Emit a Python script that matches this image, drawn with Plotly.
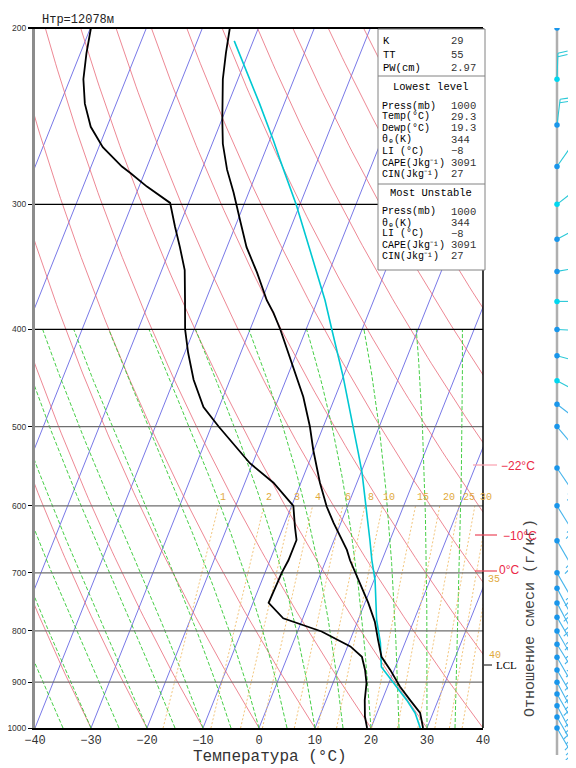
import numpy as np
import plotly.graph_objects as go

# ---------------- data ----------------
TEMP_P = [1000, 966, 938, 909, 875, 849, 817, 783, 750, 712, 680, 664, 624, 601, 569, 528, 500, 467,
          436, 400, 385, 374, 351, 331, 311, 292, 277, 261, 247, 225, 212, 200]
TEMP_T = [29.3, 27.7, 25.0, 22.2, 19.3, 16.8, 15.0, 13.1, 10.6, 7.2, 4.3, 3.0, -1.3, -3.7, -6.6, -10.1,
          -12.4, -15.7, -19.6, -24.6, -27.0, -29.1, -32.8, -36.5, -39.6, -42.7, -45.5, -48.1, -49.9,
          -52.7, -54.0, -55.1]

DEW_P = [1000, 974, 938, 902, 875, 849, 829, 801, 777, 750, 700, 680, 649, 630, 600, 569, 544, 516,
         500, 478, 449, 422, 400, 374, 349, 331, 316, 299, 288, 279, 275, 263, 251, 238, 225, 212, 200]
DEW_T = [19.3, 18.1, 16.9, 16.0, 14.8, 13.3, 10.5, 4.3, -3.5, -7.2, -7.0, -6.7, -6.7, -7.9, -9.7,
         -14.9, -20.5, -25.7, -28.7, -32.8, -36.5, -39.4, -41.6, -43.7, -45.9, -48.4, -50.7, -53.3,
         -58.6, -62.6, -64.5, -69.3, -72.9, -75.6, -77.6, -78.9, -79.9]

PARCEL_P = [1000, 966, 938, 902, 869, 822, 780, 712, 680, 649, 592, 556, 531, 493, 446, 400, 374,
            333, 300, 271, 259, 238, 219, 206]
PARCEL_T = [28.8, 26.8, 24.4, 20.8, 17.5, 15.6, 13.3, 10.2, 8.2, 6.4, 2.7, 0.2, -1.9, -5.4, -10.0,
            -15.4, -18.7, -25.0, -30.7, -36.7, -39.3, -44.4, -49.6, -53.4]

WIND_P = [200, 225, 250, 275, 300, 325, 350, 375, 400, 425, 450, 475, 500, 550, 600, 650, 700,
          725, 750, 775, 800, 825, 850, 875, 900, 925, 950, 975, 1000]
WIND_DIR = [20, 2, 7, 35, 52, 62, 80, 90, 93, 105, 118, 128, 140, 146, 148, 150, 150, 152, 152,
            150, 150, 148, 150, 150, 152, 150, 152, 150, 150]
WIND_SPD = [5, 20, 20, 15, 15, 15, 15, 15, 15, 15, 15, 15, 15, 15, 15, 15, 15, 15, 15, 15, 15,
            15, 15, 15, 15, 15, 15, 15, 15]

X_TICKS = [-40, -30, -20, -10, 0, 10, 20, 30, 40]
P_TICKS = [200, 300, 400, 500, 600, 700, 800, 900, 1000]

ISOTHERMS = list(range(-90, 50, 10))
DRY_THETA_C = list(range(-40, 180, 10))
MOIST_THETAW_C = list(range(-40, 45, 5))
MIX_RATIOS = [1, 2, 3, 4, 6, 8, 10, 15, 20, 25, 30, 35, 40]
MIX_LABELED = [1, 2, 3, 4, 6, 8, 10, 15, 20, 25, 30]

STATS_TOP = [("K", "29"), ("TT", "55"), ("PW(cm)", "2.97")]
STATS_LOW = [("Press(mb)", "1000"), ("Temp(°C)", "29.3"), ("Dewp(°C)", "19.3"), ("θₑ(K)", "344"),
             ("LI (°C)", "−8"), ("CAPE(Jkg⁻¹)", "3091"), ("CIN(Jkg⁻¹)", "27")]
STATS_MU = [("Press(mb)", "1000"), ("θₑ(K)", "344"), ("LI (°C)", "−8"),
            ("CAPE(Jkg⁻¹)", "3091"), ("CIN(Jkg⁻¹)", "27")]

# ---------------- helpers ----------------
K = 31.0  # skew factor


def skx(T, p):
    return np.asarray(T, float) + K * np.log(1000.0 / np.asarray(p, float))


def es(tc):
    return 6.112 * np.exp(17.67 * tc / (tc + 243.5))


def moist_curve(tw_c, p_top=400.0, dp=5.0):
    Rd, Cp, Lv, eps = 287.04, 1005.7, 2.501e6, 0.622

    def f(p, T):
        e = es(T - 273.15)
        rs = eps * e / (p - e)
        return (Rd * T + Lv * rs) / (Cp + Lv * Lv * rs * eps / (Rd * T * T)) / p

    ps, ts = [1000.0], [tw_c + 273.15]
    p, T = 1000.0, tw_c + 273.15
    while p > p_top + 1e-6:
        h = -dp
        k1 = f(p, T)
        k2 = f(p + h / 2, T + h / 2 * k1)
        k3 = f(p + h / 2, T + h / 2 * k2)
        k4 = f(p + h, T + h * k3)
        T = T + h / 6 * (k1 + 2 * k2 + 2 * k3 + k4)
        p = p + h
        ps.append(p)
        ts.append(T)
    return np.array(ps), np.array(ts) - 273.15


def td_from_w(w, p):
    e = w * p / (622.0 + w)
    l = np.log(e / 6.112)
    return 243.5 * l / (17.67 - l)


def joined(curves):
    xs, ys = [], []
    for x, y in curves:
        xs += list(x) + [None]
        ys += list(y) + [None]
    return xs, ys


# ---------------- figure geometry ----------------
# the page body adds an 8px offset; positions below are in window pixels
OFF = 8
W, H = 576 - OFF, 768 - OFF
ML, MR, MT, MB = 35 - OFF, 0, 28 - OFF, 8
PW, PH = W - ML - MR, H - MT - MB
X_RIGHT, Y_BOTTOM = 483, 728
PLOT_BOTTOM = OFF + H - MB
PX_PER_LN = (Y_BOTTOM - 28) / np.log(5.0)


def fx(px):
    return (px - OFF - ML) / PW


def fy(py):
    return (H - MB - (py - OFF)) / PH


fig = go.Figure()
pp = np.geomspace(1000, 200, 120)

# isotherms
xs, ys = joined([(skx(np.full_like(pp, t), pp), pp) for t in ISOTHERMS])
fig.add_trace(go.Scatter(x=xs, y=ys, mode="lines", line=dict(color="rgb(85,85,225)", width=0.8),
                         hoverinfo="skip", showlegend=False))
# dry adiabats
xs, ys = joined([(skx((th + 273.15) * (pp / 1000.0) ** 0.2857 - 273.15, pp), pp) for th in DRY_THETA_C])
fig.add_trace(go.Scatter(x=xs, y=ys, mode="lines", line=dict(color="rgb(232,105,120)", width=0.8),
                         hoverinfo="skip", showlegend=False))
# moist adiabats
mc = []
for tw in MOIST_THETAW_C:
    mp, mt = moist_curve(tw)
    mc.append((skx(mt, mp), mp))
xs, ys = joined(mc)
fig.add_trace(go.Scatter(x=xs, y=ys, mode="lines",
                         line=dict(color="rgb(50,200,50)", width=0.9, dash="4px,2px"),
                         hoverinfo="skip", showlegend=False))
# mixing ratio lines
pm = np.geomspace(1000, 600, 40)
xs, ys = joined([(skx(td_from_w(w, pm), pm), pm) for w in MIX_RATIOS])
fig.add_trace(go.Scatter(x=xs, y=ys, mode="lines",
                         line=dict(color="rgb(240,190,110)", width=0.9, dash="2px,2px"),
                         hoverinfo="skip", showlegend=False))

# pressure level lines
for p in P_TICKS[1:-1]:
    col = "black" if p in (300, 400) else "rgb(110,110,110)"
    fig.add_trace(go.Scatter(x=[-40, 40], y=[p, p], mode="lines", line=dict(color=col, width=1.3),
                             hoverinfo="skip", showlegend=False))

# sounding
fig.add_trace(go.Scatter(x=skx(PARCEL_T, PARCEL_P), y=PARCEL_P, mode="lines",
                         line=dict(color="rgb(0,200,210)", width=1.6), showlegend=False))
fig.add_trace(go.Scatter(x=skx(DEW_T, DEW_P), y=DEW_P, mode="lines",
                         line=dict(color="black", width=1.8), showlegend=False))
fig.add_trace(go.Scatter(x=skx(TEMP_T, TEMP_P), y=TEMP_P, mode="lines",
                         line=dict(color="black", width=1.8), showlegend=False))

# ---------------- wind panel ----------------
XW = 557


def p_off(p, dy_up):
    return p * np.exp(-dy_up / PX_PER_LN)


fig.add_trace(go.Scatter(x=[XW, XW], y=[200, p_off(1000, -27)], mode="lines", xaxis="x2", yaxis="y2",
                         line=dict(color="rgb(175,175,175)", width=2.5), hoverinfo="skip",
                         showlegend=False))
for p, d, s in zip(WIND_P, WIND_DIR, WIND_SPD):
    bx, by = [], []
    r = np.deg2rad(d)
    ux, uy = np.sin(r), np.cos(r)
    L = 26.0 if p < 460 else 30.0
    a = np.deg2rad(75)
    fxv = ux * np.cos(a) + uy * np.sin(a)
    fyv = -ux * np.sin(a) + uy * np.cos(a)
    bx += [XW, XW + L * ux, None]
    by += [p, p_off(p, L * uy), None]
    n_full, n_half = int(s // 10), int((s % 10) // 5)
    pos = L
    for i in range(n_full):
        sx, sy = pos * ux, pos * uy
        bx += [XW + sx, XW + sx + 10 * fxv, None]
        by += [p_off(p, sy), p_off(p, sy + 10 * fyv), None]
        pos -= 3.5
    for i in range(n_half):
        sx, sy = pos * ux, pos * uy
        bx += [XW + sx, XW + sx + 6 * fxv, None]
        by += [p_off(p, sy), p_off(p, sy + 6 * fyv), None]
    col = "rgb(40,200,215)" if p < 460 else "rgb(70,180,235)"
    fig.add_trace(go.Scatter(x=bx, y=by, mode="lines", xaxis="x2", yaxis="y2",
                             line=dict(color=col, width=1.1), hoverinfo="skip", showlegend=False))
dot_cols = ["rgb(0,215,240)" if i % 3 == 1 and p < 460 else "rgb(25,150,235)"
            for i, p in enumerate(WIND_P)]
fig.add_trace(go.Scatter(x=[XW] * len(WIND_P), y=WIND_P, mode="markers", xaxis="x2", yaxis="y2",
                         marker=dict(color=dot_cols, size=5.5), hoverinfo="skip",
                         showlegend=False))

# ---------------- layout ----------------
mono = "Liberation Mono"
fig.update_layout(
    width=W, height=H, margin=dict(l=ML, r=MR, t=MT, b=MB, autoexpand=False),
    paper_bgcolor="white", plot_bgcolor="white", showlegend=False,
    xaxis=dict(domain=[0, fx(X_RIGHT)], range=[-40, 40], tickvals=X_TICKS, showgrid=False,
               zeroline=False, showline=True, linecolor="black", linewidth=2, ticks="",
               tickfont=dict(family=mono, size=12, color="#333"), anchor="y", automargin=False),
    yaxis=dict(domain=[fy(Y_BOTTOM), 1], type="log", range=[3, np.log10(200)], tickvals=P_TICKS,
               ticktext=[str(v) for v in P_TICKS], showgrid=False, zeroline=False, showline=True,
               linecolor="rgb(140,140,140)", linewidth=3, ticks="outside", ticklen=4,
               tickcolor="black", tickfont=dict(family="Liberation Sans", size=8.5, color="#333"),
               anchor="x", automargin=False),
    xaxis2=dict(domain=[fx(538), 1], range=[538, 576], visible=False, anchor="y2"),
    yaxis2=dict(domain=[0, 1], type="log",
                range=[np.log10(p_off(1000, -(PLOT_BOTTOM - Y_BOTTOM))), np.log10(200)],
                visible=False, anchor="x2"),
)

shapes = []
shapes.append(dict(type="line", xref="paper", yref="paper", x0=fx(28), x1=fx(X_RIGHT), y0=fy(28),
                   y1=fy(28), line=dict(color="black", width=1.8)))
shapes.append(dict(type="line", xref="paper", yref="paper", x0=fx(X_RIGHT), x1=fx(X_RIGHT),
                   y0=fy(Y_BOTTOM), y1=fy(28), line=dict(color="black", width=1.5)))
shapes.append(dict(type="rect", xref="paper", yref="paper", x0=fx(378), x1=fx(485), y0=fy(270),
                   y1=fy(29), fillcolor="white", line=dict(color="rgb(130,130,130)", width=1),
                   layer="above"))
for yy in (76, 184):
    shapes.append(dict(type="line", xref="paper", yref="paper", x0=fx(378), x1=fx(485), y0=fy(yy),
                       y1=fy(yy), line=dict(color="rgb(130,130,130)", width=1)))
shapes.append(dict(type="line", xref="paper", yref="paper", x0=fx(484), x1=fx(492), y0=fy(665),
                   y1=fy(665), line=dict(color="black", width=1)))
for yy, x0, col in ((465, 473, "rgb(250,160,175)"), (535, 475, "rgb(235,70,90)"),
                    (571, 475, "rgb(235,70,90)")):
    shapes.append(dict(type="line", xref="paper", yref="paper", x0=fx(x0), x1=fx(497), y0=fy(yy),
                       y1=fy(yy), line=dict(color=col, width=1.2)))
fig.update_layout(shapes=shapes)

ann = []


def txt(x, y, s, size=11, color="black", anchor="left", family=mono, **kw):
    ann.append(dict(xref="paper", yref="paper", x=fx(x), y=fy(y), text=s, showarrow=False,
                    xanchor=anchor, yanchor="middle", font=dict(family=family, size=size, color=color),
                    **kw))


txt(40, 20, "Нтр=12078м", size=12, color="#222")
txt(270, 757, "Температура (°C)", size=16, color="#333", anchor="center")
txt(530, 618, "Отношение смеси (г/кг)", size=15, color="#444", anchor="center", textangle=-90)

rows_top = [41, 55, 68]
for (lab, val), yy in zip(STATS_TOP, rows_top):
    txt(381, yy, lab, size=10.5)
    txt(449, yy, val, size=10.5, color="#333")
txt(431, 87, "Lowest level", size=10.5, anchor="center")
rows_low = [106, 117, 128, 140, 151, 163, 174]
for (lab, val), yy in zip(STATS_LOW, rows_low):
    txt(380, yy, lab, size=10)
    txt(449, yy, val, size=10.5, color="#333")
txt(431, 193, "Most Unstable", size=10.5, anchor="center")
rows_mu = [212, 223, 234, 245, 256]
for (lab, val), yy in zip(STATS_MU, rows_mu):
    txt(380, yy, lab, size=10)
    txt(449, yy, val, size=10.5, color="#333")

txt(494, 665, "LCL", size=11, family="Liberation Serif")
red = "rgb(235,40,70)"
txt(499, 466, "−22°C", size=12, color=red, family="Liberation Sans")
txt(501, 536, "−10°C", size=12, color=red, family="Liberation Sans")
txt(497, 570, "0°C", size=12, color=red, family="Liberation Sans")

gold = "rgb(225,170,60)"
for w in MIX_LABELED:
    x = float(skx(td_from_w(w, 588.0), 588.0))
    ann.append(dict(xref="x", yref="y", x=x, y=np.log10(588.0), text=str(w), showarrow=False,
                    xanchor="center", xshift=2 + 0.25 * w, yanchor="middle",
                    font=dict(family=mono, size=10, color=gold)))
txt(486, 579, "35", size=10, color=gold)
txt(487, 655, "40", size=10, color=gold)

fig.update_layout(annotations=ann)
fig.write_html("out.html")
